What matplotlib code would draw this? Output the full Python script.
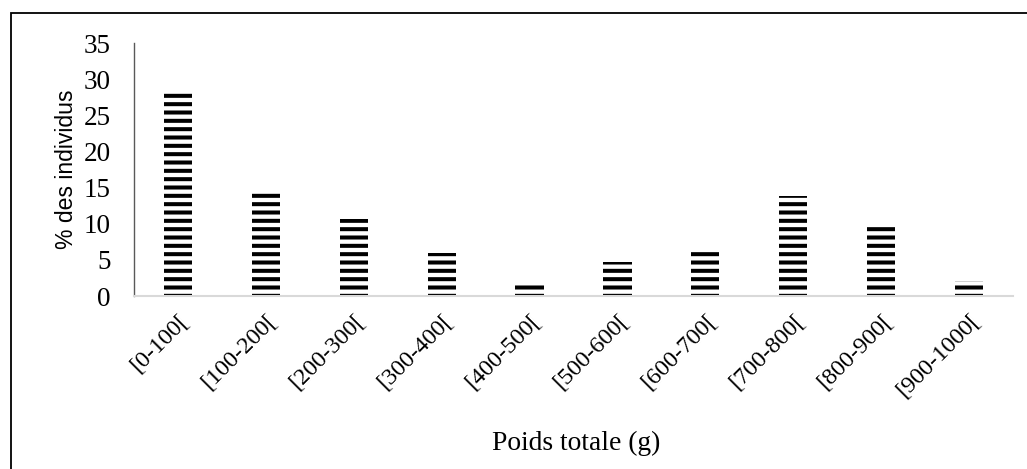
import matplotlib
matplotlib.use("Agg")
import numpy as np
from matplotlib import pyplot as plt
from matplotlib.patches import Rectangle

# weight classes and share of individuals (%)
classes = ["[0-100[", "[100-200[", "[200-300[", "[300-400[", "[400-500[",
           "[500-600[", "[600-700[", "[700-800[", "[800-900[", "[900-1000["]
pct = [28.4, 14.3, 10.7, 6.0, 2.0, 4.7, 6.7, 13.9, 9.5, 2.1]

plt.rcParams["hatch.linewidth"] = 2.9
plt.rcParams["hatch.color"] = "black"

fig = plt.figure(figsize=(10.27, 4.69), dpi=100)
ax = fig.add_axes([134 / 1027, 1 - 296 / 469, (1013 - 134) / 1027, (296 - 43) / 469])

x = np.arange(len(classes))
ax.bar(x, pct, width=0.32, color="white", edgecolor="black", hatch="--", linewidth=0)

ax.set_xlim(-0.5, len(classes) - 0.5)
ax.set_ylim(0, 35)
ax.set_yticks(range(0, 36, 5))
ax.set_xticks(x)
ax.set_xticklabels(classes, rotation=45, ha="right", va="top", rotation_mode="anchor",
                   family="Liberation Serif", fontsize=17.5)
for lab in ax.get_yticklabels():
    lab.set_family("Liberation Serif")
    lab.set_fontsize(19.5)
ax.tick_params(axis="both", length=0)
ax.tick_params(axis="y", pad=17)
ax.tick_params(axis="x", pad=10)

for s in ["top", "right"]:
    ax.spines[s].set_visible(False)
ax.spines["left"].set_color("#595959")
ax.spines["left"].set_linewidth(1)
ax.spines["bottom"].set_color("#d9d9d9")
ax.spines["bottom"].set_linewidth(1.5)

ax.set_ylabel("% des individus", family="Liberation Sans", fontsize=16.6, labelpad=4)
fig.text(576 / 1027, 1 - 443 / 469, "Poids totale (g)", ha="center", va="center",
         family="Liberation Serif", fontsize=19.8)

# frame around the chart area
fig.patches.append(Rectangle((11 / 1027, -0.1), 1.2, 1.1 - 13 / 469,
                             transform=fig.transFigure, fill=False,
                             edgecolor="black", linewidth=1.3))

fig.savefig("out.png", dpi=100)
